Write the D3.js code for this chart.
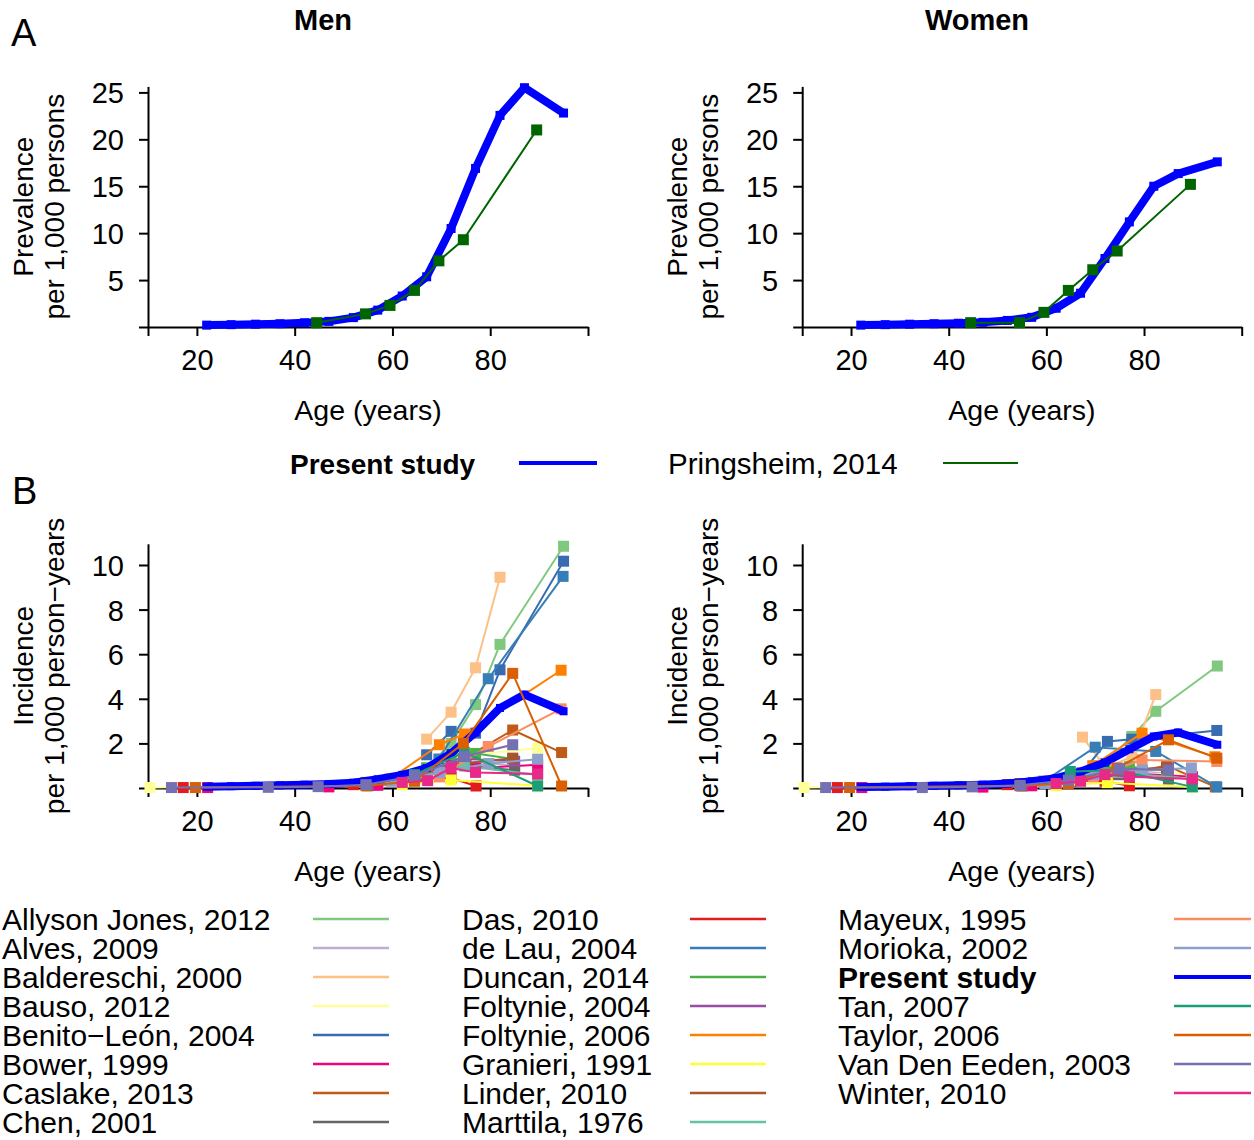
<!DOCTYPE html>
<html><head><meta charset="utf-8">
<script src="https://cdn.jsdelivr.net/npm/d3@7"></script>
<style>
body{margin:0;background:#fff;}
svg text{font-family:"Liberation Sans",Arial,sans-serif;fill:#000;}
</style></head>
<body><svg id="chart" width="1254" height="1140"></svg>
<script>
// ---------- DATA ----------
const ageGroups = [22,27,32,37,42,47,52,57,62,67,72,77,82,87,95];
const prevMenPresent   = [0.2,0.25,0.3,0.35,0.45,0.6,1.0,1.8,3.3,5.35,10.5,16.9,22.55,25.5,22.8];
const prevWomenPresent = [0.2,0.25,0.3,0.35,0.4,0.5,0.7,1.03,2.0,3.6,7.3,11.2,15.0,16.35,17.6];
const pringsheimAges  = [44.5,54.5,59.5,64.5,69.5,74.5,89.5];
const pringsheimMen   = [0.46,1.4,2.3,3.9,7.05,9.3,21.0];
const pringsheimWomen = [0.46,0.46,1.56,3.9,6.1,8.1,15.2];

const studyNames = ["Allyson Jones, 2012","Alves, 2009","Baldereschi, 2000","Bauso, 2012","Benito\u2212León, 2004",
  "Bower, 1999","Caslake, 2013","Chen, 2001","Das, 2010","de Lau, 2004","Duncan, 2014","Foltynie, 2004",
  "Foltynie, 2006","Granieri, 1991","Linder, 2010","Marttila, 1976","Mayeux, 1995","Morioka, 2002",
  "Present study","Tan, 2007","Taylor, 2006","Van Den Eeden, 2003","Winter, 2010"];
const studyColors = ["#7FC97F","#BEAED4","#FDC086","#FFFF99","#386CB0","#F0027F","#BF5B17","#666666",
  "#E41A1C","#377EB8","#4DAF4A","#984EA3","#FF7F00","#FFFF33","#A65628","#66C2A5","#FC8D62","#8DA0CB",
  "#0000FF","#1B9E77","#D95F02","#7570B3","#E7298A"];

const studyAgesMen = [
  [67,72,77,82,95],[55,65,75,85],[67,72,77,82],[10.4,57,67,77,89.7],[67,72,77,82,95],
  [22.2,47,57,62,72,77,89.7],[74.5,84.6,94.6],[55,65,75,85],[17.2,52,62,72,77.1],[59.5,69.5,79.6,94.9],
  [62,67,72,77,84.6],[55,65,75,85],[59.5,69.6,74.7,94.5],[62,72,89.7],[54.6,64.5,74.5,84.6],
  [64.5,74.7,89.7],[69.6,79.6,94.5],[59.7,69.7,79.7,89.7],
  ageGroups,[64.5,74.7,89.7],[19.7,54.6,64.5,74.5,84.6,94.6],[14.8,34.6,44.8,54.6,64.5,74.7,84.6],
  [62,67.2,72,77,89.7]];
const studyIncMen = [
  [0.9,2.0,3.74,6.44,10.84],[0.2,0.6,1.2,1.0],[2.19,3.4,5.39,9.45],[0.02,0.2,0.8,1.5,1.79],[1.49,2.54,2.46,5.3,10.17],
  [0.02,0.05,0.12,0.24,1.11,0.89,1.04],[1.3,2.6,1.59],[0.1,0.5,1.0,0.8],[0.02,0.15,0.4,0.45,0.09],[0.35,1.3,4.9,9.49],
  [0.4,0.9,1.5,1.55,1.3],[0.15,0.6,1.3,1.2],[0.4,1.94,2.42,5.28],[0.15,0.36,0.1],[0.25,0.6,1.1,1.34],
  [0.4,0.99,0.58],[0.5,1.86,3.55],[0.3,0.7,1.1,1.29],
  [0.06,0.08,0.1,0.12,0.15,0.18,0.24,0.39,0.59,0.89,1.56,2.49,3.59,4.19,3.44],[0.6,1.6,0.09],
  [0.02,0.1,0.3,2.0,5.14,0.09],[0.02,0.03,0.06,0.15,0.54,1.41,1.94],[0.25,0.33,0.9,0.7,0.63]];

const studyAgesWomen = [
  [67,72,77.5,82.4,95],[55,65,75,85],[67.4,72.2,77.5,82.4],[10.4,57,67,77,89.7],[67,72.5,77.5,94.9],
  [22.2,47,57,62,72.7,77,89.9],[74.5,84.6,94.6],[55,65,75,85],[17.2,52,62,72,77],[59.5,70,82.4,94.9],
  [62,67,72,77,84.6],[55,65,75,85],[59.5,69.5,79.6,94.5],[62,72.5,89.9],[54.6,64.5,74.5,84.6],
  [64.5,74.7,89.7],[69.6,79.6,94.9],[59.7,69.7,79.7,89.7],
  ageGroups,[64.9,74.7,89.9],[19.7,54.6,64.5,74.5,85,94.9],[14.8,34.6,44.8,54.6,64.5,75,85],
  [62,67,72,77,89.9]];
const studyIncWomen = [
  [0.5,1.1,2.31,3.44,5.47],[0.1,0.4,0.8,0.7],[2.28,0.9,1.41,4.19],[0.02,0.15,0.5,0.9,0.6],[0.6,2.09,2.19,2.58],
  [0.02,0.04,0.1,0.2,0.66,0.66,0.51],[0.6,1.0,0.05],[0.1,0.3,0.6,0.4],[0.02,0.15,0.35,0.3,0.1],[0.3,1.83,1.64,0.05],
  [0.3,0.6,0.9,0.95,0.8],[0.1,0.4,0.8,0.9],[0.3,1.0,2.46,1.4],[0.1,0.24,0.05],[0.2,0.4,0.8,0.9],
  [0.3,0.7,0.4],[0.5,1.26,1.19],[0.2,0.6,0.8,0.9],
  [0.05,0.06,0.08,0.1,0.12,0.15,0.2,0.3,0.44,0.74,1.14,1.74,2.31,2.49,1.94],[0.74,0.8,0.05],
  [0.02,0.1,0.2,0.9,2.16,1.34],[0.02,0.02,0.05,0.12,0.35,0.86,0.81],[0.2,0.3,0.6,0.5,0.4]];

const xTicks = [10,20,40,60,80,100];
const xTickLabels = ["","20","40","60","80",""];
const prevTicks = [0,5,10,15,20,25];
const incTicks = [0,2,4,6,8,10];

// ---------- DRAW ----------
const svg = d3.select("#chart");
const FONT = '"Liberation Sans",Arial,sans-serif';
const presentIdx = studyNames.indexOf("Present study");

function panel(opt){
  const x = d3.scaleLinear().domain([10,100]).range(opt.xr);
  const y = d3.scaleLinear().domain(opt.ydom).range(opt.yr);
  const g = svg.append("g");
  const xa = d3.axisBottom(x).tickValues(xTicks).tickFormat((d,i)=>xTickLabels[i]).tickSizeInner(9).tickSizeOuter(0).tickPadding(13);
  const gx = g.append("g").attr("transform",`translate(0,${opt.yr[0]})`).call(xa);
  gx.select(".domain").attr("stroke","#000").attr("stroke-width",2);
  gx.selectAll(".tick line").attr("stroke","#000").attr("stroke-width",2);
  gx.selectAll("text").style("font-family",FONT).style("font-size","29px").attr("fill","#000");
  const ya = d3.axisLeft(y).tickValues(opt.yticks).tickFormat(d=>d===0?"":d).tickSizeInner(9).tickSizeOuter(0).tickPadding(15);
  const gy = g.append("g").attr("transform",`translate(${opt.xr[0]},0)`).call(ya);
  gy.select(".domain").attr("stroke","#000").attr("stroke-width",2);
  gy.selectAll(".tick line").attr("stroke","#000").attr("stroke-width",2);
  gy.selectAll("text").style("font-family",FONT).style("font-size","29px").attr("fill","#000").attr("dy","0.36em");
  g.append("text").attr("x",(opt.xr[0]+opt.xr[1])/2).attr("y",opt.yr[0]+93).attr("text-anchor","middle")
    .style("font-size","28.5px").text("Age (years)");
  const cy = (opt.yr[0]+opt.yr[1])/2;
  opt.ylab.forEach((t,i)=>{
    g.append("text").attr("transform",`translate(${opt.xr[0]-115+i*31},${cy}) rotate(-90)`)
      .attr("text-anchor","middle").style("font-size","28px").text(t);
  });
  return {g,x,y};
}

function series(p, ages, vals, color, lw, ms){
  const pts = ages.map((a,i)=>[a,vals[i]]);
  const line = d3.line().x(d=>p.x(d[0])).y(d=>p.y(d[1]));
  p.g.append("path").datum(pts).attr("d",line).attr("fill","none").attr("stroke",color)
    .attr("stroke-width",lw).attr("stroke-linejoin","round");
  p.g.selectAll(null).data(pts).enter().append("rect")
    .attr("x",d=>p.x(d[0])-ms/2).attr("y",d=>p.y(d[1])-ms/2).attr("width",ms).attr("height",ms).attr("fill",color);
}

// Panel A
const aMen = panel({xr:[148,588], yr:[327,86.4], ydom:[0,25.64], yticks:prevTicks, ylab:["Prevalence","per 1,000 persons"]});
const aWom = panel({xr:[802.2,1241.7], yr:[327,86.4], ydom:[0,25.64], yticks:prevTicks, ylab:["Prevalence","per 1,000 persons"]});
series(aMen, ageGroups, prevMenPresent, "#0000FF", 8, 9);
series(aMen, pringsheimAges, pringsheimMen, "#006400", 2, 11);
series(aWom, ageGroups, prevWomenPresent, "#0000FF", 8, 9);
series(aWom, pringsheimAges, pringsheimWomen, "#006400", 2, 11);

// Panel B
const bMen = panel({xr:[148,588], yr:[788,543.8], ydom:[0,10.95], yticks:incTicks, ylab:["Incidence","per 1,000 person\u2212years"]});
const bWom = panel({xr:[802.2,1241.7], yr:[788,543.8], ydom:[0,10.95], yticks:incTicks, ylab:["Incidence","per 1,000 person\u2212years"]});
studyNames.forEach((n,i)=>{
  const isP = i===presentIdx;
  series(bMen, studyAgesMen[i], studyIncMen[i], studyColors[i], isP?8:2, isP?8:11);
  series(bWom, studyAgesWomen[i], studyIncWomen[i], studyColors[i], isP?8:2, isP?8:11);
});

// Titles and letters
svg.append("text").attr("x",323).attr("y",30).attr("text-anchor","middle").style("font-size","29px").style("font-weight","bold").text("Men");
svg.append("text").attr("x",977).attr("y",30).attr("text-anchor","middle").style("font-size","29px").style("font-weight","bold").text("Women");
svg.append("text").attr("x",11).attr("y",46).style("font-size","38px").text("A");
svg.append("text").attr("x",12).attr("y",504).style("font-size","38px").text("B");

// Middle legend
svg.append("text").attr("x",290).attr("y",474).style("font-size","28px").style("font-weight","bold").text("Present study");
svg.append("line").attr("x1",519).attr("x2",597).attr("y1",463).attr("y2",463).attr("stroke","#0000FF").attr("stroke-width",4);
svg.append("text").attr("x",668).attr("y",474).style("font-size","29.5px").text("Pringsheim, 2014");
svg.append("line").attr("x1",943).attr("x2",1018).attr("y1",463).attr("y2",463).attr("stroke","#006400").attr("stroke-width",2);

// Bottom legend
const colTextX = [2,462,838];
const colLineX = [[313,389],[690,766],[1174,1251]];
studyNames.forEach((n,i)=>{
  const c = Math.floor(i/8), r = i%8;
  const cy = 919 + r*29;
  const isP = i===presentIdx;
  svg.append("text").attr("x",colTextX[c]).attr("y",cy+10.5).style("font-size","30px")
    .style("font-weight",isP?"bold":"normal").text(n);
  svg.append("line").attr("x1",colLineX[c][0]).attr("x2",colLineX[c][1]).attr("y1",cy).attr("y2",cy)
    .attr("stroke",studyColors[i]).attr("stroke-width",isP?4:2.5);
});
</script></body></html>
